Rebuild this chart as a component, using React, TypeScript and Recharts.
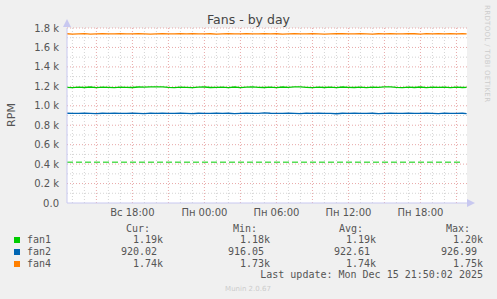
import { CartesianGrid, Line, LineChart, ReferenceLine, XAxis, YAxis } from 'recharts';

// hours since Sunday 00:00, one sample every half hour
const HOURS = [
  12.55, 13, 13.5, 14, 14.5, 15, 15.5, 16, 16.5, 17, 17.5, 18, 18.5, 19, 19.5, 20, 20.5, 21, 21.5, 22, 22.5,
  23, 23.5, 24, 24.5, 25, 25.5, 26, 26.5, 27, 27.5, 28, 28.5, 29, 29.5, 30, 30.5, 31, 31.5, 32, 32.5, 33,
  33.5, 34, 34.5, 35, 35.5, 36, 36.5, 37, 37.5, 38, 38.5, 39, 39.5, 40, 40.5, 41, 41.5, 42, 42.5, 43, 43.5,
  44, 44.5, 45, 45.5, 45.85,
];

const FAN1 = [
  1190, 1186, 1192, 1188, 1193, 1187, 1191, 1189, 1186, 1192,
  1190, 1188, 1193, 1191, 1194, 1195, 1195, 1190, 1187, 1192,
  1189, 1186, 1191, 1193, 1188, 1190, 1192, 1187, 1193, 1186,
  1191, 1194, 1190, 1188, 1192, 1187, 1193, 1189, 1195, 1195,
  1190, 1186, 1192, 1188, 1191, 1187, 1193, 1190, 1188, 1192,
  1186, 1191, 1189, 1194, 1195, 1190, 1187, 1192, 1188, 1193,
  1186, 1191, 1189, 1192, 1187, 1191, 1188, 1190,
];

const FAN2 = [
  923, 922, 921, 924, 922, 920, 923, 922, 925, 922,
  921, 923, 922, 920, 924, 922, 923, 921, 922, 924,
  922, 919, 923, 922, 921, 924, 922, 923, 920, 922,
  923, 921, 922, 926, 923, 922, 921, 923, 922, 920,
  924, 922, 923, 921, 922, 918, 923, 922, 924, 921,
  922, 923, 920, 922, 924, 922, 921, 923, 922, 921,
  923, 922, 920, 924, 922, 921, 923, 920,
];

const FAN4 = [
  1741, 1738, 1740, 1742, 1737, 1740, 1741, 1739, 1740, 1743,
  1740, 1739, 1741, 1740, 1738, 1740, 1742, 1740, 1739, 1741,
  1740, 1743, 1739, 1740, 1741, 1738, 1740, 1742, 1740, 1739,
  1741, 1740, 1739, 1743, 1740, 1741, 1738, 1740, 1742, 1740,
  1739, 1741, 1740, 1738, 1740, 1743, 1741, 1740, 1739, 1742,
  1740, 1738, 1741, 1740, 1743, 1739, 1740, 1742, 1741, 1738,
  1743, 1740, 1741, 1739, 1743, 1740, 1741, 1740,
];

// fan1 warning level (dashed)
const FAN1_WARN = 420;
const WARN_FROM = 12.55;
const WARN_TO = 45.45;

const X_DOMAIN = [12.55, 45.88];
const X_TICKS = [18, 24, 30, 36, 42];
const X_TICK_LABELS = ['Вс 18:00', 'Пн 00:00', 'Пн 06:00', 'Пн 12:00', 'Пн 18:00'];
const Y_TICKS = [0, 200, 400, 600, 800, 1000, 1200, 1400, 1600, 1800];
const Y_TICK_LABELS = ['0.0', '0.2 k', '0.4 k', '0.6 k', '0.8 k', '1.0 k', '1.2 k', '1.4 k', '1.6 k', '1.8 k'];

const MINOR_X = [13, 14, 16, 17, 19, 20, 22, 23, 25, 26, 28, 29, 31, 32, 34, 35, 37, 38, 40, 41, 43, 44];
const MAJOR_X = [15, 18, 21, 24, 27, 30, 33, 36, 39, 42, 45];
const MINOR_Y = [100, 300, 500, 700, 900, 1100, 1300, 1500, 1700];
const MAJOR_Y = [200, 400, 600, 800, 1000, 1200, 1400, 1600, 1800];

const SERIES = [
  { key: 'fan1', color: '#00cc00' },
  { key: 'fan2', color: '#0066b3' },
  { key: 'fan4', color: '#ff8000' },
];
const HEADERS = ['Cur:', 'Min:', 'Avg:', 'Max:'];
const CUR = ['1.19k', '920.02', '1.74k'];
const MIN = ['1.18k', '916.05', '1.73k'];
const AVG = ['1.19k', '922.61', '1.74k'];
const MAX = ['1.20k', '926.99', '1.75k'];
const LAST_UPDATE = 'Last update: Mon Dec 15 21:50:02 2025';

const data = HOURS.map((t, i) => ({ t, fan1: FAN1[i], fan2: FAN2[i], fan4: FAN4[i] }));

const W = 497;
const H = 299;
const AXIS = '#c8c8f0';
const TICK = { fontFamily: 'DejaVu Sans', fontSize: 10, fill: '#555' };
const MONO = 'DejaVu Sans Mono';
const COL_END = [163, 270, 376, 483];
const ROW_Y = [243, 255, 267];

export default function App() {
  const columns = [CUR, MIN, AVG, MAX];
  return (
    <div style={{ position: 'absolute', left: 0, top: 0, width: W, height: H, background: '#f0f0f0', overflow: 'hidden' }}>
      <LineChart width={W} height={H} data={data} margin={{ top: 28, right: 30, bottom: 66, left: 7 }} style={{ position: 'absolute', left: 0, top: 0 }}>
        <CartesianGrid horizontal={false} vertical={false} fill="#ffffff" stroke="none" />
        {MINOR_X.map((x) => (
          <ReferenceLine key={'mx' + x} x={x} stroke="#d4d4d4" strokeDasharray="1 2" />
        ))}
        {MINOR_Y.map((y) => (
          <ReferenceLine key={'my' + y} y={y} stroke="#d4d4d4" strokeDasharray="1 2" />
        ))}
        {MAJOR_X.map((x) => (
          <ReferenceLine key={'Mx' + x} x={x} stroke="#e8a8a8" strokeDasharray="1 2" />
        ))}
        {MAJOR_Y.map((y) => (
          <ReferenceLine key={'My' + y} y={y} stroke="#e8a8a8" strokeDasharray="1 2" />
        ))}
        <XAxis
          dataKey="t"
          type="number"
          domain={X_DOMAIN}
          allowDataOverflow
          ticks={X_TICKS}
          tickFormatter={(v) => X_TICK_LABELS[X_TICKS.indexOf(v)]}
          tick={TICK}
          tickLine={false}
          tickSize={0}
          tickMargin={6}
          axisLine={{ stroke: AXIS }}
          height={30}
        />
        <YAxis
          type="number"
          domain={[0, 1800]}
          ticks={Y_TICKS}
          tickFormatter={(v) => Y_TICK_LABELS[Y_TICKS.indexOf(v)]}
          tick={TICK}
          tickLine={false}
          tickSize={0}
          tickMargin={8}
          axisLine={{ stroke: AXIS }}
          width={60}
        />
        <ReferenceLine
          segment={[{ x: WARN_FROM, y: FAN1_WARN }, { x: WARN_TO, y: FAN1_WARN }]}
          stroke="#00cc00"
          strokeWidth={1}
          strokeDasharray="6 3"
        />
        {SERIES.map((s) => (
          <Line
            key={s.key}
            dataKey={s.key}
            type="linear"
            stroke={s.color}
            strokeWidth={1.3}
            dot={false}
            activeDot={false}
            isAnimationActive={false}
          />
        ))}
      </LineChart>
      <svg width={W} height={H} style={{ position: 'absolute', left: 0, top: 0, pointerEvents: 'none' }}>
        <polygon points="63,27 71,27 67,19" fill={AXIS} />
        <polygon points="467,199 467,207 475,203" fill={AXIS} />
        <text x={248.5} y={24} textAnchor="middle" fontFamily="DejaVu Sans" fontSize={12.5} fill="#444">
          Fans - by day
        </text>
        <text transform="translate(15,115) rotate(-90)" textAnchor="middle" fontFamily="DejaVu Sans" fontSize={11} fill="#555">
          RPM
        </text>
        <text transform="translate(485,5) rotate(90)" fontFamily="DejaVu Sans" fontSize={7} fill="#cccccc" textLength={97}>
          RRDTOOL / TOBI OETIKER
        </text>
        {HEADERS.map((h, c) => (
          <text key={h} x={COL_END[c] - 13} y={232} textAnchor="end" fontFamily={MONO} fontSize={10} fill="#555">
            {h}
          </text>
        ))}
        {SERIES.map((s, r) => (
          <g key={s.key}>
            <rect x={14} y={ROW_Y[r] - 6} width={6} height={6} fill={s.color} />
            <text x={27} y={ROW_Y[r]} fontFamily={MONO} fontSize={10} fill="#555">
              {s.key}
            </text>
            {columns.map((col, c) => (
              <text
                key={c}
                x={col[r].endsWith('k') ? COL_END[c] : COL_END[c] - 6}
                y={ROW_Y[r]}
                textAnchor="end"
                fontFamily={MONO}
                fontSize={10}
                fill="#555"
              >
                {col[r]}
              </text>
            ))}
          </g>
        ))}
        <text x={483} y={278} textAnchor="end" fontFamily={MONO} fontSize={10} fill="#555">
          {LAST_UPDATE}
        </text>
        <text x={248} y={291} textAnchor="middle" fontFamily="DejaVu Sans" fontSize={7} fill="#cccccc">
          Munin 2.0.67
        </text>
      </svg>
    </div>
  );
}
